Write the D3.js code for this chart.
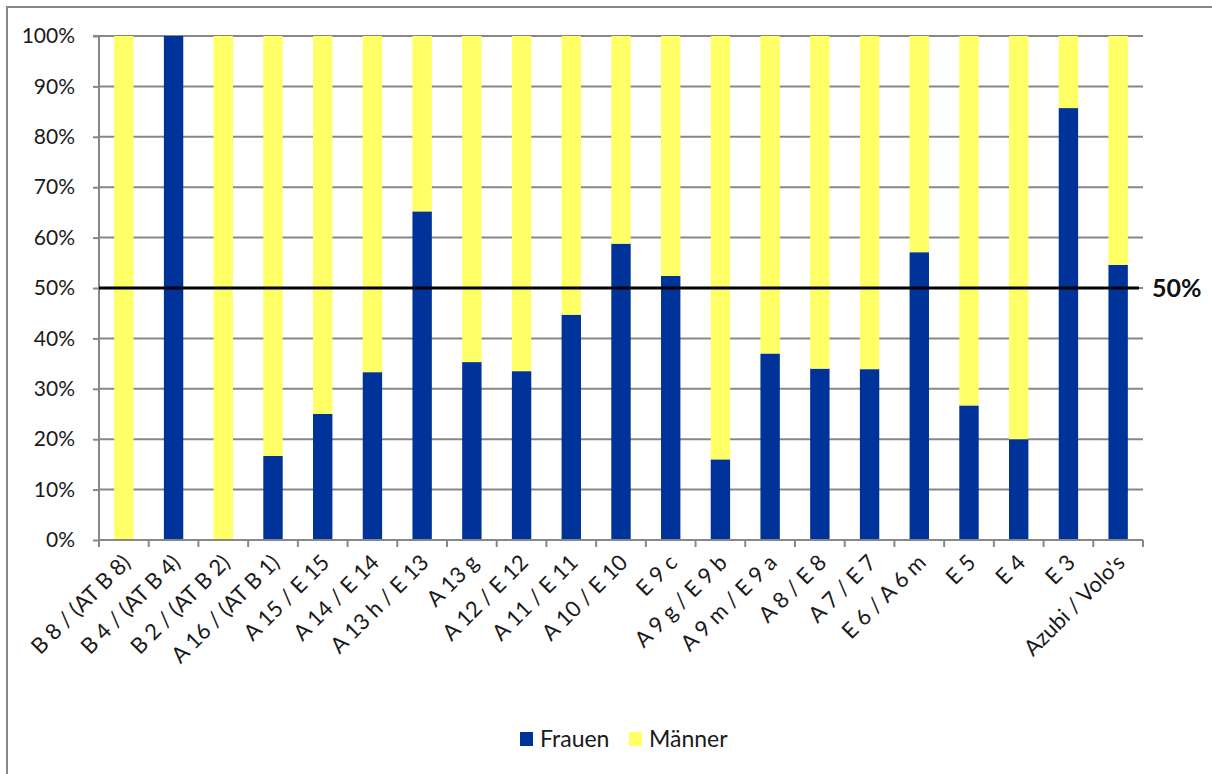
<!DOCTYPE html>
<html>
<head>
<meta charset="utf-8">
<script src="https://cdn.jsdelivr.net/npm/d3@7/dist/d3.min.js"></script>
<style>
  html, body { margin: 0; padding: 0; background: #fff; }
  svg { display: block; font-family: Lato, "Open Sans", sans-serif; }
</style>
</head>
<body>
<svg id="chart" width="1212" height="774"></svg>
<script>
// Salary groups (Entgeltgruppen) on the x axis
const categories = [
  "B 8 / (AT B 8)", "B 4 / (AT B 4)", "B 2 / (AT B 2)", "A 16 / (AT B 1)",
  "A 15 / E 15", "A 14 / E 14", "A 13 h / E 13", "A 13 g", "A 12 / E 12",
  "A 11 / E 11", "A 10 / E 10", "E 9 c", "A 9 g / E 9 b", "A 9 m / E 9 a",
  "A 8 / E 8", "A 7 / E 7", "E 6 / A 6 m", "E 5", "E 4", "E 3", "Azubi / Volo's"
];

// Share of women per group, in percent
const frauen = [0, 100, 0, 16.7, 25, 33.3, 65.2, 35.3, 33.5, 44.7, 58.8,
  52.4, 16, 37, 34, 33.9, 57.1, 26.7, 20, 85.7, 54.6];

// Share of men per group, in percent
const maenner = [100, 0, 100, 83.3, 75, 66.7, 34.8, 64.7, 66.5, 55.3, 41.2,
  47.6, 84, 63, 66, 66.1, 42.9, 73.3, 80, 14.3, 45.4];

const yTicks = [0, 10, 20, 30, 40, 50, 60, 70, 80, 90, 100];
const referenceValue = 50;

const seriesNames = ["Frauen", "Männer"];
const colors = { "Frauen": "#003399", "Männer": "#FFFF66" };

const svg = d3.select("#chart");
const gridColor = "#878787";

// outer chart frame
svg.append("rect")
  .attr("x", 7).attr("y", 7)
  .attr("width", 1230).attr("height", 800)
  .attr("fill", "none").attr("stroke", gridColor).attr("stroke-width", 2);

const plot = { left: 99, right: 1143, top: 36, bottom: 540 };

const x = d3.scaleBand().domain(categories).range([plot.left, plot.right]).padding(0);
const y = d3.scaleLinear().domain([0, 100]).range([plot.bottom, plot.top]);

// horizontal gridlines
svg.append("g").selectAll("line").data(yTicks.filter(t => t > 0)).join("line")
  .attr("x1", plot.left).attr("x2", plot.right)
  .attr("y1", d => y(d)).attr("y2", d => y(d))
  .attr("stroke", gridColor).attr("stroke-width", 2);

// stacked bars
const table = categories.map((c, i) => ({ cat: c, "Frauen": frauen[i], "Männer": maenner[i] }));
const stack = d3.stack().keys(seriesNames)(table);
const barW = x.bandwidth() * 0.39;

svg.append("g").selectAll("g").data(stack).join("g")
  .attr("fill", d => colors[d.key])
  .selectAll("rect").data(d => d).join("rect")
  .attr("x", d => x(d.data.cat) + (x.bandwidth() - barW) / 2)
  .attr("width", barW)
  .attr("y", d => y(d[1]))
  .attr("height", d => y(d[0]) - y(d[1]));

// y axis
const yAxis = svg.append("g")
  .attr("transform", `translate(${plot.left},0)`)
  .call(d3.axisLeft(y).tickValues(yTicks).tickFormat(d => d + "%").tickSize(6).tickPadding(18));
yAxis.select(".domain").attr("stroke", gridColor).attr("stroke-width", 2)
  .attr("d", `M-6,${plot.top}H0V${plot.bottom + 7}`);
yAxis.selectAll(".tick line").attr("stroke", gridColor).attr("stroke-width", 2);
yAxis.selectAll(".tick text").attr("font-size", 21).attr("fill", "#1a1a1a")
  .attr("font-family", "Lato, sans-serif");

// x axis with boundary ticks between groups
const boundaries = categories.map(c => x(c)).concat([plot.right]);
svg.append("line")
  .attr("x1", plot.left).attr("x2", plot.right)
  .attr("y1", plot.bottom).attr("y2", plot.bottom)
  .attr("stroke", gridColor).attr("stroke-width", 2);
svg.append("g").selectAll("line").data(boundaries).join("line")
  .attr("x1", d => d).attr("x2", d => d)
  .attr("y1", plot.bottom).attr("y2", plot.bottom + 7)
  .attr("stroke", gridColor).attr("stroke-width", 2);

// rotated category labels
svg.append("g").selectAll("text").data(categories).join("text")
  .attr("transform", d => `translate(${x(d) + x.bandwidth() / 2 + 8},${plot.bottom + 24}) rotate(-45)`)
  .attr("text-anchor", "end")
  .attr("font-size", 22)
  .attr("fill", "#1a1a1a")
  .text(d => d);

// 50 % reference line
svg.append("line")
  .attr("x1", plot.left).attr("x2", plot.right - 4)
  .attr("y1", y(referenceValue)).attr("y2", y(referenceValue))
  .attr("stroke", "#000").attr("stroke-width", 3);
svg.append("text")
  .attr("x", 1152).attr("y", y(referenceValue))
  .attr("dy", "0.35em")
  .attr("font-size", 25).attr("font-weight", "bold").attr("fill", "#111")
  .text(referenceValue + "%");

// legend
const legend = svg.append("g").attr("transform", "translate(520,732)");
const legendItems = legend.selectAll("g").data(seriesNames).join("g")
  .attr("transform", (d, i) => `translate(${i * 109},0)`);
legendItems.append("rect")
  .attr("width", 13).attr("height", 14)
  .attr("fill", d => colors[d]);
legendItems.append("text")
  .attr("x", 20).attr("y", 15)
  .attr("font-size", 23).attr("fill", "#1a1a1a")
  .text(d => d);
</script>
</body>
</html>
